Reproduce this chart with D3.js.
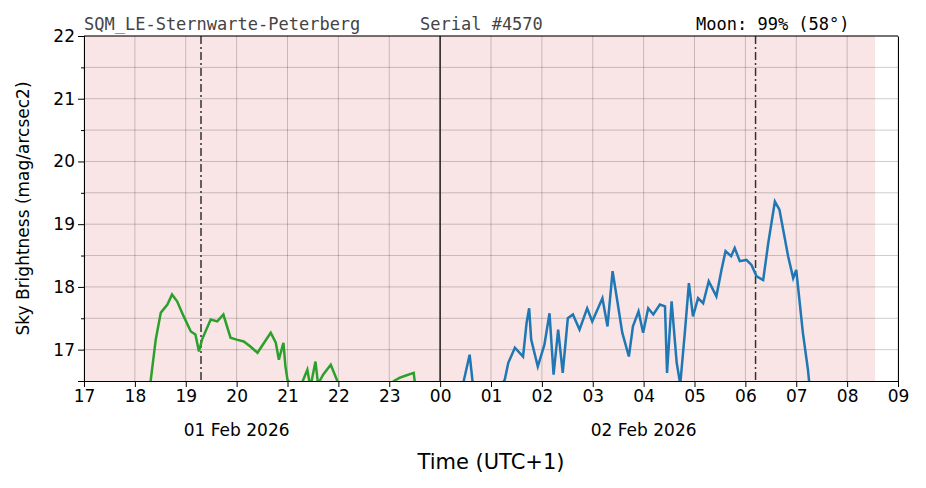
<!DOCTYPE html>
<html><head><meta charset="utf-8">
<script src="https://cdn.jsdelivr.net/npm/d3@7"></script>
<style>body{margin:0;background:#fff}</style>
</head><body>
<svg id="chart" width="926" height="488"></svg>
<script>
// hours since 17:00 on 01 Feb
var hourLabels = ['17','18','19','20','21','22','23','00','01','02','03','04','05','06','07','08','09'];
var yTicks = [17, 18, 19, 20, 21, 22];
var greenH = [1.31,1.41,1.51,1.64,1.73,1.83,1.96,2.10,2.19,2.26,2.32,2.49,2.62,2.74,2.88,3.00,3.14,3.27,3.41,3.54,3.67,3.77,3.83,3.92,3.96,4.0,4.2,4.39,4.45,4.55,4.6,4.7,4.85,4.98,5.1,6.0,6.09,6.2,6.3,6.48,6.5,6.6];
var greenV = [16.5,17.16,17.59,17.72,17.88,17.77,17.53,17.29,17.24,16.97,17.16,17.48,17.45,17.56,17.19,17.16,17.13,17.05,16.95,17.11,17.27,17.11,16.84,17.11,16.73,16.52,16.3,16.68,16.4,16.81,16.45,16.6,16.76,16.5,16.3,16.3,16.5,16.55,16.58,16.63,16.5,16.3];
var blueH = [7.35,7.45,7.58,7.65,7.8,8.1,8.27,8.34,8.47,8.63,8.70,8.75,8.79,8.92,9.05,9.15,9.23,9.32,9.41,9.51,9.61,9.74,9.89,9.99,10.19,10.29,10.39,10.49,10.58,10.71,10.79,10.90,10.99,11.09,11.19,11.32,11.42,11.46,11.55,11.65,11.72,11.81,11.89,11.97,12.07,12.17,12.28,12.43,12.53,12.61,12.72,12.79,12.89,13.02,13.12,13.22,13.35,13.45,13.58,13.67,13.84,13.94,14.0,14.13,14.23,14.27,14.35];
var blueV = [16.3,16.45,16.92,16.4,16.3,16.3,16.52,16.79,17.03,16.89,17.43,17.66,17.16,16.73,17.08,17.58,16.6,17.32,16.63,17.5,17.56,17.32,17.66,17.45,17.82,17.37,18.25,17.74,17.27,16.89,17.37,17.61,17.27,17.66,17.56,17.72,17.69,16.63,17.77,16.79,16.45,17.27,18.06,17.53,17.82,17.74,18.09,17.85,18.27,18.57,18.49,18.62,18.41,18.43,18.35,18.17,18.11,18.70,19.36,19.23,18.49,18.14,18.27,17.27,16.68,16.35,16.2];
var nightStart = 0, nightEnd = 15.55;
var twilight = [2.3, 13.2];

var svg = d3.select('#chart');
var m = {left: 84, right: 28, top: 36, bottom: 107};
var W = 926 - m.left - m.right, H = 488 - m.top - m.bottom;
var x = d3.scaleLinear().domain([0, 16]).range([0, W]);
var y = d3.scaleLinear().domain([16.5, 22]).range([H, 0]);
var g = svg.append('g').attr('transform', 'translate(' + m.left + ',' + m.top + ')');

g.append('defs').append('clipPath').attr('id', 'clip')
  .append('rect').attr('width', W).attr('height', H);

g.append('rect').attr('x', x(nightStart)).attr('width', x(nightEnd) - x(nightStart))
  .attr('height', H).attr('fill', '#f9e5e5');

// grid
var hours = d3.range(0, 17);
var halfs = d3.range(17, 22.01, 0.5);
g.selectAll('.vg').data(hours).enter().append('line')
  .attr('x1', d => x(d)).attr('x2', d => x(d)).attr('y1', 0).attr('y2', H)
  .attr('stroke', '#000').attr('stroke-opacity', 0.25).attr('stroke-width', 0.8);
g.selectAll('.hg').data(halfs).enter().append('line')
  .attr('x1', 0).attr('x2', W).attr('y1', d => y(d)).attr('y2', d => y(d))
  .attr('stroke', '#000').attr('stroke-opacity', 0.25).attr('stroke-width', 0.8);

// midnight and twilight markers
g.append('line').attr('x1', x(7)).attr('x2', x(7)).attr('y1', 0).attr('y2', H)
  .attr('stroke', '#222').attr('stroke-width', 1.5);
g.selectAll('.tw').data(twilight).enter().append('line')
  .attr('x1', d => x(d)).attr('x2', d => x(d)).attr('y1', 0).attr('y2', H)
  .attr('stroke', '#333').attr('stroke-width', 1.5).attr('stroke-dasharray', '8,3,2,3');

var line = d3.line().x(d => x(d[0])).y(d => y(d[1]));
var cg = g.append('g').attr('clip-path', 'url(#clip)');
cg.append('path').datum(d3.zip(greenH, greenV)).attr('d', line)
  .attr('fill', 'none').attr('stroke', '#2ca02c').attr('stroke-width', 2.5);
cg.append('path').datum(d3.zip(blueH, blueV)).attr('d', line)
  .attr('fill', 'none').attr('stroke', '#1f77b4').attr('stroke-width', 2.5);

// axes
var xAxis = g.append('g').attr('transform', 'translate(0,' + H + ')')
  .call(d3.axisBottom(x).tickValues(hours).tickFormat((d, i) => hourLabels[i]).tickSize(6));
var yAxis = g.append('g')
  .call(d3.axisLeft(y).tickValues(yTicks).tickFormat(d3.format('d')).tickSize(6));
g.append('g').call(d3.axisLeft(y).tickValues(d3.range(16.5, 22, 1)).tickFormat('').tickSize(3));
g.append('g').attr('transform', 'translate(' + W + ',0)')
  .call(d3.axisRight(y).tickValues([]).tickSizeOuter(0));
g.append('line').attr('x1', 0).attr('x2', W).attr('stroke', '#000');
[xAxis, yAxis].forEach(a => a.selectAll('text').attr('font-size', 17)
  .attr('font-family', 'DejaVu Sans').attr('fill', '#000'));
g.selectAll('.domain').attr('stroke', '#000');

g.append('text').attr('x', x(3)).attr('y', H + 55).attr('text-anchor', 'middle')
  .attr('font-family', 'DejaVu Sans').attr('font-size', 17).text('01 Feb 2026');
g.append('text').attr('x', x(11)).attr('y', H + 55).attr('text-anchor', 'middle')
  .attr('font-family', 'DejaVu Sans').attr('font-size', 17).text('02 Feb 2026');
g.append('text').attr('x', W / 2).attr('y', H + 88).attr('text-anchor', 'middle')
  .attr('font-family', 'DejaVu Sans').attr('font-size', 21).text('Time (UTC+1)');
svg.append('text').attr('transform', 'translate(29,' + (m.top + H / 2) + ') rotate(-90)')
  .attr('text-anchor', 'middle').attr('font-family', 'DejaVu Sans').attr('font-size', 17)
  .text('Sky Brightness (mag/arcsec2)');

// header
var mono = 'DejaVu Sans Mono';
svg.append('text').attr('x', 84).attr('y', 30).attr('font-family', mono).attr('font-size', 17)
  .attr('fill', '#444').text('SQM_LE-Sternwarte-Peterberg');
svg.append('text').attr('x', 420).attr('y', 30).attr('font-family', mono).attr('font-size', 17)
  .attr('fill', '#444').text('Serial #4570');
svg.append('text').attr('x', 696).attr('y', 30).attr('font-family', mono).attr('font-size', 17)
  .attr('fill', '#000').text('Moon: 99% (58°)');
</script>
</body></html>
